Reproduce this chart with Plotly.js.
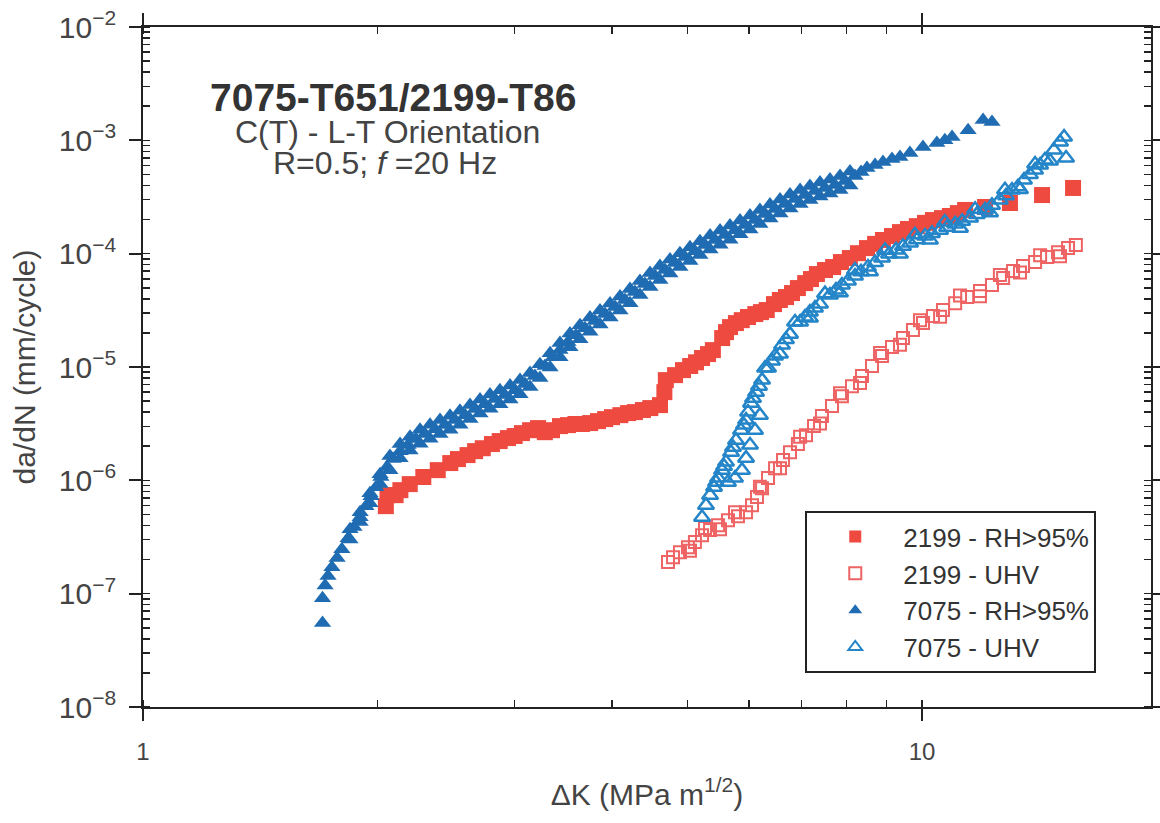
<!DOCTYPE html>
<html>
<head>
<meta charset="utf-8">
<script src="https://cdn.plot.ly/plotly-3.0.1.min.js"></script>
<style>html,body{margin:0;padding:0;background:#fff;}#chart{width:1160px;height:823px;}</style>
</head>
<body>
<div id="chart"></div>
<script>
// ---- data (ΔK in MPa·m^1/2, da/dN in mm/cycle) ----
const seriesNames = ['2199 - RH>95%', '2199 - UHV', '7075 - RH>95%', '7075 - UHV'];

const dK_2199_RH = [2.05,2.06,2.11,2.14,2.20,2.29,2.39,2.48,2.537,2.61,2.669,2.73,2.805,2.87,2.941,3.00,3.065,3.14,3.215,3.28,3.35,3.43,3.512,3.59,3.66,3.75,3.838,3.92,4.00,4.10,4.195,4.28,4.383,4.48,4.61,4.67,4.69,4.82,4.934,5.04,5.128,5.22,5.313,5.39,5.54,5.603,5.67,5.77,5.87,5.98,6.11,6.213,6.32,6.457,6.57,6.69,6.81,6.93,7.08,7.203,7.33,7.508,7.69,7.87,8.08,8.276,8.50,8.706,8.91,9.152,9.37,9.594,9.85,10.09,10.33,10.61,10.86,11.12,11.36,12.05,12.97,14.26,15.63];
const dadN_2199_RH = [5.92e-7,7.40e-7,7.40e-7,8.19e-7,9.26e-7,1.07e-6,1.23e-6,1.42e-6,1.54e-6,1.67e-6,1.81e-6,1.92e-6,2.09e-6,2.22e-6,2.36e-6,2.46e-6,2.61e-6,2.77e-6,2.89e-6,2.66e-6,2.77e-6,3.01e-6,3.07e-6,3.14e-6,3.14e-6,3.20e-6,3.33e-6,3.47e-6,3.61e-6,3.76e-6,3.92e-6,4.00e-6,4.17e-6,4.34e-6,4.61e-6,6.00e-6,7.66e-6,8.48e-6,9.39e-6,1.02e-5,1.10e-5,1.20e-5,1.30e-5,1.41e-5,1.80e-5,2.03e-5,2.25e-5,2.44e-5,2.59e-5,2.76e-5,2.93e-5,3.05e-5,3.18e-5,3.59e-5,3.90e-5,4.14e-5,4.49e-5,4.97e-5,5.50e-5,5.97e-5,6.61e-5,7.17e-5,7.62e-5,8.43e-5,9.15e-5,1.01e-4,1.12e-4,1.22e-4,1.32e-4,1.43e-4,1.55e-4,1.65e-4,1.75e-4,1.87e-4,1.98e-4,2.06e-4,2.15e-4,2.28e-4,2.43e-4,2.58e-4,2.80e-4,3.29e-4,3.80e-4];

const dK_2199_UHV = [4.72,4.791,4.89,5.007,5.111,5.22,5.345,5.473,5.636,5.805,5.945,6.051,6.141,6.233,6.344,6.477,6.632,6.77,6.93,7.098,7.268,7.441,7.665,7.894,8.131,8.375,8.627,8.887,9.152,9.454,9.737,10.03,10.33,10.64,11.03,11.43,11.87,12.30,12.71,13.09,13.48,13.97,14.47,14.95,15.40,15.76,
  5.266,5.754,6.194,6.975,7.848,8.834,9.941,11.19,12.59,14.18,
  5.037,5.505,6.573,7.398,8.326,9.37,10.55,11.87,13.36,15.04];
const dadN_2199_UHV = [1.90e-7,2.10e-7,2.32e-7,2.57e-7,2.85e-7,3.28e-7,3.64e-7,4.02e-7,4.45e-7,4.83e-7,5.24e-7,6.04e-7,7.11e-7,8.53e-7,1.05e-6,1.28e-6,1.51e-6,1.77e-6,2.09e-6,2.50e-6,3.01e-6,3.69e-6,4.52e-6,5.53e-6,6.78e-6,8.31e-6,1.02e-5,1.25e-5,1.50e-5,1.80e-5,2.12e-5,2.44e-5,2.82e-5,3.18e-5,3.66e-5,4.14e-5,4.68e-5,5.28e-5,6.09e-5,7.02e-5,7.77e-5,8.43e-5,9.33e-5,1.03e-4,1.12e-4,1.19e-4,
  3.79e-7,5.24e-7,8.78e-7,2.42e-6,5.88e-6,1.33e-5,2.59e-5,4.27e-5,6.49e-5,9.66e-5,
  2.39e-7,3.71e-7,1.28e-6,3.17e-6,7.21e-6,1.57e-5,2.77e-5,4.22e-5,6.81e-5,9.49e-5];

const dK_7075_RH = [1.70,1.70,1.713,1.728,1.748,1.775,1.80,1.834,1.866,1.90,1.933,1.962,1.991,2.02,2.057,2.094,2.138,2.189,2.24,2.301,2.371,2.441,2.515,2.591,2.669,2.748,2.83,2.915,3.003,3.093,3.185,3.281,3.36,3.43,3.512,3.596,3.693,3.803,3.918,4.036,4.157,4.281,4.409,4.543,4.679,4.818,4.963,5.111,5.267,5.425,5.586,5.754,5.927,6.105,6.288,6.477,6.671,6.871,7.077,7.289,7.508,7.733,7.966,8.204,8.351,8.50,8.706,8.912,9.152,9.37,9.65,10.03,10.45,10.70,10.93,11.46,11.98,12.30,
  1.844,1.956,2.075,2.202,2.336,2.478,2.629,2.789,2.959,3.139,3.331,3.533,3.748,3.977,4.219,4.476,4.748,5.037,5.345,5.669,6.015,6.381,6.770,7.181,7.619,8.084,
  1.900,2.015,2.138,2.268,2.406,2.552,2.708,2.872,3.048,3.233,3.430,3.639,3.861,4.096,4.345,4.609,4.890,5.188,5.505,5.840,6.194,6.573,6.975,7.398,7.848,
  1.900,2.015,2.138,2.268,2.406,2.552,2.708,2.872,3.048,3.233,3.430,3.639,3.861,4.096,4.345,4.609,4.890,5.188,5.505,5.840,6.194,6.573,6.975,7.398,7.848,
  1.844,1.956,2.075,2.202,2.336,2.478,2.629,2.789,2.959,3.139,3.331,3.533,3.748,3.977,4.219,4.476,4.748,5.037,5.345,5.669,6.015,6.381,6.770,7.181,7.619,8.084];
const dadN_7075_RH = [5.5e-8,9.1e-8,1.18e-7,1.43e-7,1.71e-7,2.06e-7,2.47e-7,3.09e-7,3.87e-7,4.73e-7,5.92e-7,7.25e-7,8.71e-7,1.07e-6,1.31e-6,1.54e-6,1.81e-6,2.05e-6,2.31e-6,2.56e-6,2.83e-6,3.07e-6,3.40e-6,3.76e-6,4.25e-6,4.70e-6,5.21e-6,5.65e-6,6.25e-6,7.07e-6,8.31e-6,1.02e-5,1.22e-5,1.41e-5,1.66e-5,1.91e-5,2.20e-5,2.54e-5,2.93e-5,3.38e-5,3.90e-5,4.58e-5,5.39e-5,6.34e-5,7.17e-5,8.26e-5,9.33e-5,1.05e-4,1.19e-4,1.32e-4,1.46e-4,1.61e-4,1.79e-4,1.98e-4,2.24e-4,2.48e-4,2.74e-4,3.03e-4,3.29e-4,3.57e-4,3.80e-4,4.03e-4,4.37e-4,4.84e-4,5.25e-4,5.70e-4,6.05e-4,6.43e-4,6.84e-4,7.12e-4,7.73e-4,8.73e-4,9.47e-4,1.00e-3,1.07e-3,1.23e-3,1.51e-3,1.45e-3,
  3.71e-7,7.71e-7,1.64e-6,2.43e-6,3.10e-6,3.72e-6,4.61e-6,5.71e-6,6.85e-6,8.84e-6,1.32e-5,1.98e-5,2.73e-5,3.63e-5,4.87e-5,6.74e-5,8.87e-5,1.14e-4,1.45e-4,1.77e-4,2.17e-4,2.71e-4,3.32e-4,3.95e-4,4.51e-4,5.30e-4,
  4.28e-7,9.26e-7,1.57e-6,2.10e-6,2.56e-6,3.10e-6,3.88e-6,4.70e-6,5.76e-6,7.98e-6,1.22e-5,1.76e-5,2.37e-5,3.15e-5,4.31e-5,5.85e-5,7.62e-5,9.72e-5,1.20e-4,1.48e-4,1.83e-4,2.26e-4,2.74e-4,3.19e-4,3.64e-4,
  5.24e-7,1.13e-6,2.09e-6,2.79e-6,3.40e-6,4.12e-6,5.16e-6,6.25e-6,7.66e-6,1.06e-5,1.63e-5,2.34e-5,3.15e-5,4.18e-5,5.73e-5,7.77e-5,1.01e-4,1.29e-4,1.60e-4,1.96e-4,2.43e-4,3.00e-4,3.64e-4,4.24e-4,4.84e-4,
  3.01e-7,6.29e-7,1.23e-6,1.83e-6,2.33e-6,2.80e-6,3.47e-6,4.29e-6,5.16e-6,6.65e-6,9.90e-6,1.49e-5,2.05e-5,2.73e-5,3.66e-5,5.07e-5,6.67e-5,8.60e-5,1.09e-4,1.33e-4,1.63e-4,2.04e-4,2.50e-4,2.97e-4,3.39e-4,3.99e-4];

const dK_7075_UHV = [5.22,5.281,5.345,5.408,5.473,5.538,5.603,5.636,5.687,5.754,5.771,5.857,5.874,5.945,5.945,5.98,6.015,6.033,6.105,6.123,6.194,6.233,6.344,6.477,6.612,6.77,6.975,7.181,7.398,7.619,7.894,8.204,8.524,8.887,9.262,9.652,10.09,10.55,11.03,11.53,12.05,12.59,13.05,13.52,13.97,14.38,14.77,15.04,15.22,15.31,
  6.288,6.871,7.508,8.204,8.965,9.795,10.70,11.70,12.78,13.97,
  6.573,7.181,7.848,8.576,9.37,10.24,11.19,12.23,13.36,14.60,
  6.418,6.690,7.077,7.289,7.756,8.035,8.351,8.706,9.071,9.454,9.85,10.30,10.77,11.26,11.76,12.30,12.82,13.28,13.76,14.18,
  5.440,5.570,5.720,5.909,6.069,6.177];
const dadN_7075_UHV = [4.73e-7,6.04e-7,7.40e-7,8.71e-7,1.05e-6,1.23e-6,1.45e-6,9.64e-7,1.77e-6,1.05e-6,2.26e-6,2.77e-6,1.23e-6,1.57e-6,3.40e-6,4.00e-6,2.05e-6,4.80e-6,2.77e-6,6.00e-6,3.76e-6,7.66e-6,9.78e-6,1.25e-5,1.56e-5,1.95e-5,2.49e-5,3.05e-5,3.59e-5,4.31e-5,5.28e-5,6.34e-5,7.62e-5,9.15e-5,1.08e-4,1.24e-4,1.43e-4,1.61e-4,1.83e-4,2.06e-4,2.43e-4,2.97e-4,3.64e-4,4.46e-4,5.47e-4,6.70e-4,8.21e-4,9.66e-4,1.07e-3,6.98e-4,
  9.78e-6,2.49e-5,4.44e-5,7.17e-5,1.07e-4,1.47e-4,1.90e-4,2.46e-4,3.66e-4,6.18e-4,
  1.30e-5,2.70e-5,4.52e-5,6.92e-5,9.92e-5,1.32e-4,1.68e-4,2.30e-4,3.69e-4,6.57e-4,
  1.13e-5,1.75e-5,2.76e-5,3.31e-5,4.77e-5,5.75e-5,6.91e-5,8.35e-5,9.92e-5,1.16e-4,1.33e-4,1.51e-4,1.71e-4,1.93e-4,2.22e-4,2.67e-4,3.24e-4,3.90e-4,4.99e-4,6.05e-4,
  9.64e-7,1.33e-6,1.96e-6,3.07e-6,5.31e-6,6.78e-6];

const annoLines = ['<b>7075-T651/2199-T86</b>', 'C(T) - L-T Orientation', 'R=0.5; <i>f</i> =20 Hz'];

// ---- styling ----
const RED = '#ee4a40', RED_OPEN = '#ee6464', BLUE = '#1f6cb3', BLUE_OPEN = '#2485c8';
const FONT = 'Liberation Sans, Arial, Helvetica, sans-serif';

const traces = [
  {x: dK_2199_RH, y: dadN_2199_RH, name: seriesNames[0], type: 'scatter', mode: 'markers',
   marker: {symbol: 'square', size: 16, color: RED, line: {width: 0}}},
  {x: dK_2199_UHV, y: dadN_2199_UHV, name: seriesNames[1], type: 'scatter', mode: 'markers',
   marker: {symbol: 'square-open', size: 12, color: RED_OPEN, line: {width: 2}}},
  {x: dK_7075_RH, y: dadN_7075_RH, name: seriesNames[2], type: 'scatter', mode: 'markers',
   marker: {symbol: 'triangle-up', size: 15, color: BLUE, line: {width: 0}}},
  {x: dK_7075_UHV, y: dadN_7075_UHV, name: seriesNames[3], type: 'scatter', mode: 'markers',
   marker: {symbol: 'triangle-up-open', size: 14, color: BLUE_OPEN, line: {width: 2.5}}}
];

const axisCommon = {
  type: 'log', dtick: 1, showgrid: false, zeroline: false,
  ticks: 'outside', ticklen: 12, tickwidth: 2, tickcolor: '#222',
  showline: true, linecolor: '#222', linewidth: 2, mirror: 'allticks',
  tickfont: {family: FONT, size: 24, color: '#444'},
  minor: {dtick: 'D1', ticks: 'inside', ticklen: 7, tickwidth: 1.5, tickcolor: '#222', showgrid: false}
};

const layout = {
  width: 1160, height: 823,
  margin: {l: 143, r: 9, t: 27, b: 116},
  paper_bgcolor: '#fff', plot_bgcolor: '#fff',
  font: {family: FONT, color: '#333'},
  showlegend: true,
  legend: {x: 0.657, y: 0.288, xanchor: 'left', yanchor: 'top', bgcolor: '#fff',
           bordercolor: '#222', borderwidth: 2, font: {family: FONT, size: 26, color: '#333'},
           itemsizing: 'constant', itemwidth: 86},
  xaxis: Object.assign({}, axisCommon, {
    range: [0, 1.294], ticklabelstandoff: 10,
    title: {text: 'ΔK (MPa m<sup>1/2</sup>)', font: {family: FONT, size: 30, color: '#444'}, standoff: 20}
  }),
  yaxis: Object.assign({}, axisCommon, {
    range: [-8, -2], exponentformat: 'power', ticklabelstandoff: 8,
    title: {text: 'da/dN (mm/cycle)', font: {family: FONT, size: 30, color: '#444'}, standoff: 14}
  }),
  annotations: [
    {text: annoLines[0], xref: 'paper', yref: 'paper', x: 0.248, y: 0.897, xanchor: 'center', yanchor: 'middle',
     showarrow: false, font: {family: FONT, size: 39, color: '#333'}},
    {text: annoLines[1], xref: 'paper', yref: 'paper', x: 0.243, y: 0.846, xanchor: 'center', yanchor: 'middle',
     showarrow: false, font: {family: FONT, size: 32, color: '#444'}},
    {text: annoLines[2], xref: 'paper', yref: 'paper', x: 0.240, y: 0.800, xanchor: 'center', yanchor: 'middle',
     showarrow: false, font: {family: FONT, size: 32, color: '#444'}}
  ]
};

Plotly.newPlot('chart', traces, layout, {displayModeBar: false, staticPlot: true});
</script>
</body>
</html>
